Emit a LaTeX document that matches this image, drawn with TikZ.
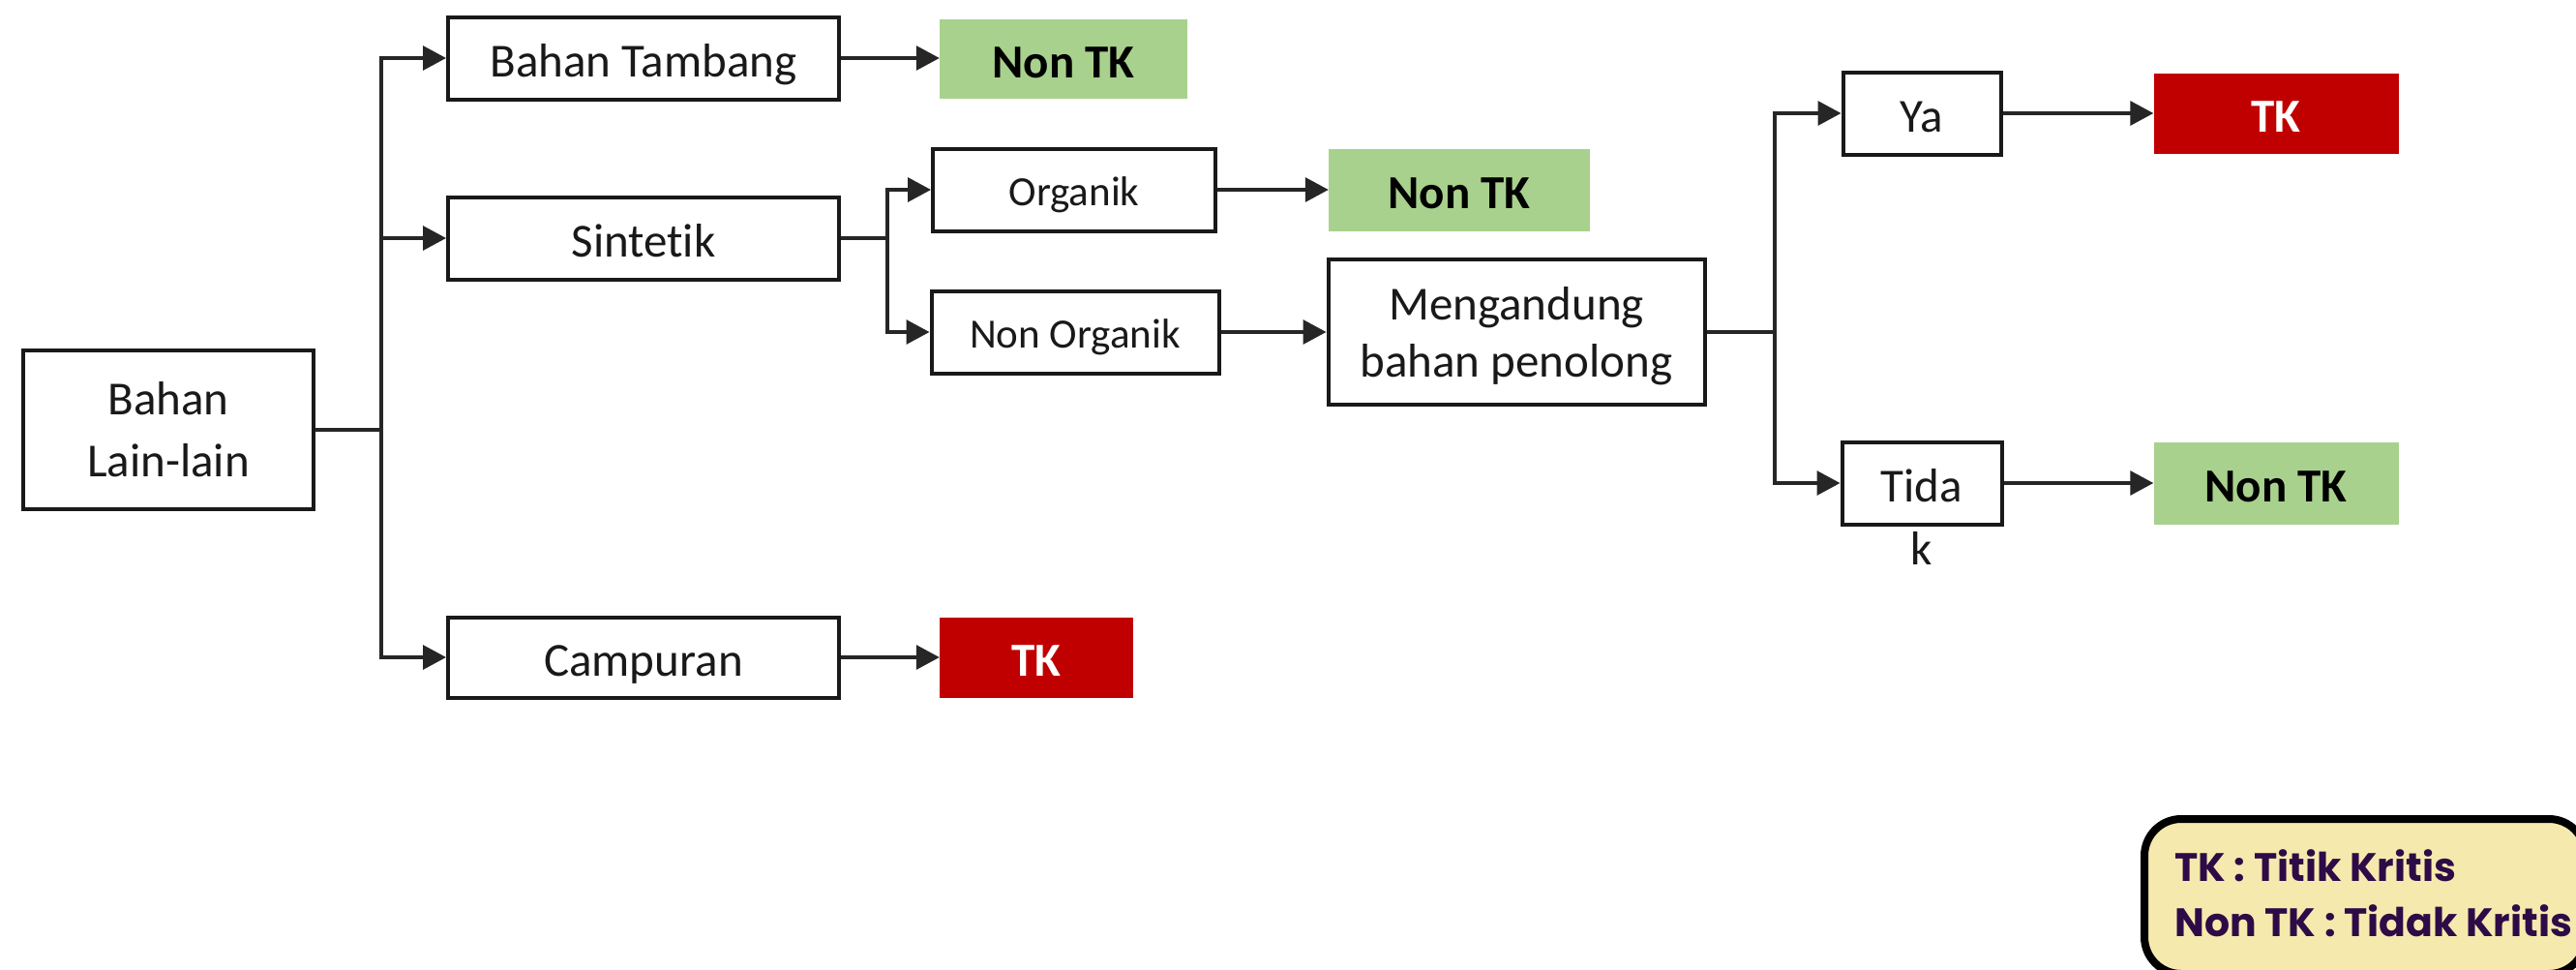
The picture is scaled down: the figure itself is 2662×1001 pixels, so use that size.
\documentclass[tikz,border=0pt]{standalone}
\usepackage{fontspec}
\setmainfont[Ligatures={NoCommon}]{Carlito}
\newfontfamily\legendfont{Poppins}
\usetikzlibrary{arrows.meta}
\definecolor{okgreen}{HTML}{A9D18E}
\definecolor{tkred}{HTML}{C00000}
\definecolor{legfill}{HTML}{F6E9AE}
\definecolor{legtext}{HTML}{2E0B47}
\tikzset{
  onel/.style={text height=38pt, text depth=0pt},
  box/.style={draw=black!90, line width=4pt, inner sep=0pt, fill=white,
    font=\fontsize{49}{64}\selectfont, text=black!90},
  smallbox/.style={box, text height=33pt, text depth=0pt, font=\fontsize{43}{52}\selectfont},
  okbox/.style={fill=okgreen, inner sep=0pt, onel, font=\fontsize{49}{60}\selectfont\bfseries},
  tkbox/.style={fill=tkred, inner sep=0pt, onel, text=white, font=\fontsize{49}{60}\selectfont\bfseries},
  conn/.style={line width=3.2pt, draw=black!85},
  arr/.style={conn, -{Triangle[length=24pt,width=25pt]}},
}
\begin{document}
\begin{tikzpicture}[x=1pt,y=-1pt]
\clip (0,0) rectangle (2662,1001);
\fill[white] (0,0) rectangle (2662,1001);

% nodes
\node[box, minimum width=300, minimum height=164, align=center] (bl) at (174,444) {Bahan\\Lain-lain};
\node[box, onel, minimum width=404, minimum height=85] (bt) at (665,60) {Bahan Tambang};
\node[okbox, minimum width=256, minimum height=82] (nt1) at (1099,61) {Non TK};
\node[box, onel, minimum width=404, minimum height=85] (sin) at (665,246) {Sintetik};
\node[box, onel, minimum width=404, minimum height=83] (cam) at (665,679) {Campuran};
\node[tkbox, minimum width=200, minimum height=83] (tk1) at (1071,679) {TK};
\node[smallbox, minimum width=292, minimum height=85] (org) at (1110,196) {Organik};
\node[okbox, minimum width=270, minimum height=85] (nt2) at (1508,196) {Non TK};
\node[smallbox, minimum width=297, minimum height=85] (nor) at (1111,343) {Non Organik};
\node[box, minimum width=389, minimum height=150, align=center, text depth=0pt, font=\fontsize{49}{59}\selectfont] (men) at (1567,343) {Mengandung\\bahan penolong};
\node[box, onel, minimum width=163, minimum height=85] (ya) at (1986,117) {Ya};
\node[tkbox, minimum width=253, minimum height=83] (tk2) at (2352,117) {TK};
\node[box, onel, minimum width=165, minimum height=85] (tida) at (1986,499) {Tida};
\node[font=\fontsize{49}{59}\selectfont, text=black!90, inner sep=0pt] (tidk) at (1986,566) {k};
\node[okbox, minimum width=253, minimum height=85] (nt3) at (2352,499) {Non TK};

% junctions
\coordinate (j1) at (394,444);
\coordinate (j2) at (917,246);
\coordinate (j3) at (1834,343);

% connectors
\draw[conn] (bl.east) -- (j1);
\draw[arr] (j1) |- (bt.west);
\draw[arr] (j1) |- (sin.west);
\draw[arr] (j1) |- (cam.west);
\draw[arr] (bt.east) -- (bt.east -| nt1.west);
\draw[arr] (cam.east) -- (tk1.west);
\draw[conn] (sin.east) -- (j2);
\draw[arr] (j2) |- (org.west);
\draw[arr] (j2) |- (nor.west);
\draw[arr] (org.east) -- (nt2.west);
\draw[arr] (nor.east) -- (men.west);
\draw[conn] (men.east) -- (j3);
\draw[arr] (j3) |- (ya.west);
\draw[arr] (j3) |- (tida.west);
\draw[arr] (ya.east) -- (tk2.west);
\draw[arr] (tida.east) -- (nt3.west);

% legend
\draw[line width=8pt, fill=legfill, rounded corners=38pt] (2216,846) rectangle (2672,1006);
\node[anchor=base west, inner sep=0pt, text=legtext, font=\legendfont\bfseries\fontsize{41}{50}\selectfont] (leg1) at (2247,910) {TK : Titik Kritis};
\node[anchor=base west, inner sep=0pt, text=legtext, font=\legendfont\bfseries\fontsize{41}{50}\selectfont] (leg2) at (2247,967) {Non TK : Tidak Kritis};
\end{tikzpicture}
\end{document}
